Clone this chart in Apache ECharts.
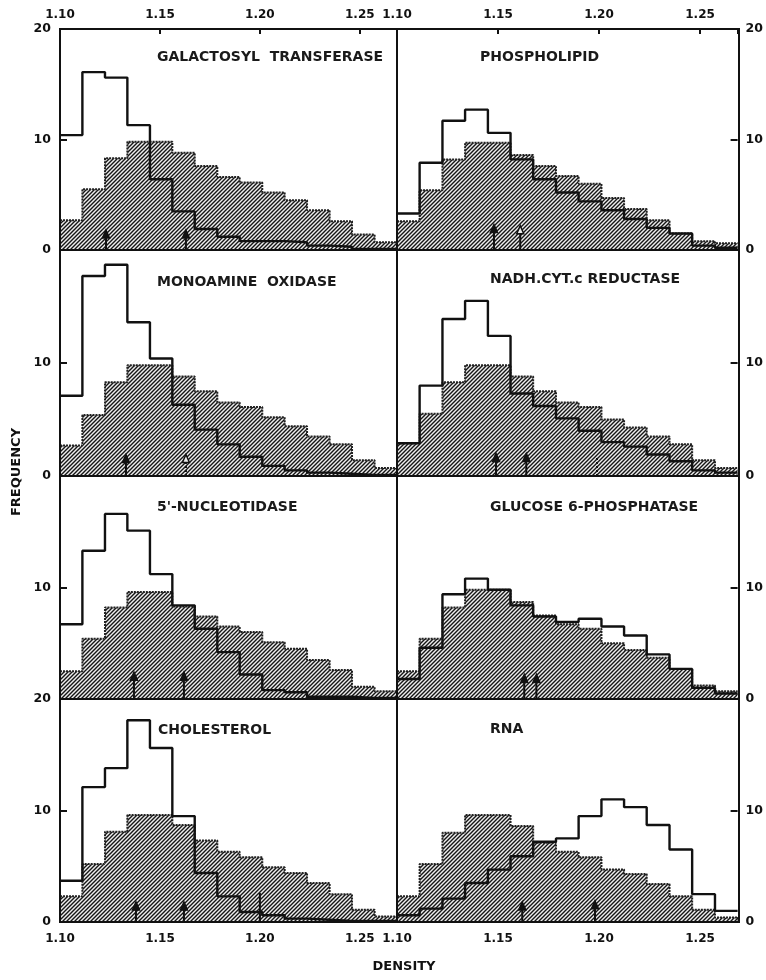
<!DOCTYPE html>
<html><head><meta charset="utf-8">
<script src="https://cdn.jsdelivr.net/npm/echarts@6/dist/echarts.min.js"></script>
<style>html,body{margin:0;padding:0;background:#fff}#c{width:766px;height:980px}</style>
</head><body><div id="c"></div>
<script>
// ---- data ----
const binEdges = [1.1000, 1.1112, 1.1225, 1.1337, 1.1450, 1.1562, 1.1674, 1.1787, 1.1899, 1.2012, 1.2124, 1.2236, 1.2349, 1.2461, 1.2574, 1.2686];
const panelNames = ['GALACTOSYL  TRANSFERASE', 'PHOSPHOLIPID', 'MONOAMINE  OXIDASE', 'NADH.CYT.c REDUCTASE', "5'-NUCLEOTIDASE", 'GLUCOSE 6-PHOSPHATASE', 'CHOLESTEROL', 'RNA'];
const galOpen   = [10.4, 16.1, 15.6, 11.3, 6.4, 3.5, 1.9, 1.2, 0.8, 0.8, 0.7, 0.4, 0.3, 0.1, 0.1];
const galHatch  = [2.7, 5.5, 8.3, 9.8, 9.8, 8.8, 7.6, 6.6, 6.1, 5.2, 4.5, 3.6, 2.6, 1.4, 0.7];
const phosOpen  = [3.3, 7.9, 11.7, 12.7, 10.6, 8.2, 6.4, 5.2, 4.4, 3.6, 2.8, 2.0, 1.5, 0.4, 0.2];
const phosHatch = [2.6, 5.4, 8.2, 9.7, 9.7, 8.6, 7.6, 6.7, 6.0, 4.7, 3.7, 2.7, 1.5, 0.8, 0.6];
const maoOpen   = [7.1, 17.7, 18.7, 13.6, 10.4, 6.3, 4.1, 2.8, 1.7, 0.9, 0.5, 0.3, 0.2, 0.1, 0.1];
const maoHatch  = [2.7, 5.4, 8.3, 9.8, 9.8, 8.8, 7.5, 6.5, 6.1, 5.2, 4.4, 3.5, 2.8, 1.4, 0.7];
const nadhOpen  = [2.9, 8.0, 13.9, 15.5, 12.4, 7.3, 6.2, 5.1, 4.0, 3.0, 2.6, 1.9, 1.3, 0.5, 0.3];
const nadhHatch = [2.9, 5.5, 8.3, 9.8, 9.8, 8.8, 7.5, 6.5, 6.1, 5.0, 4.3, 3.5, 2.8, 1.4, 0.7];
const nucOpen   = [6.7, 13.3, 16.6, 15.1, 11.2, 8.4, 6.3, 4.2, 2.2, 0.8, 0.6, 0.2, 0.2, 0.1, 0.1];
const nucHatch  = [2.5, 5.4, 8.2, 9.6, 9.6, 8.3, 7.4, 6.5, 6.0, 5.1, 4.5, 3.5, 2.6, 1.1, 0.7];
const g6pOpen   = [1.8, 4.6, 9.4, 10.8, 9.8, 8.4, 7.4, 6.9, 7.2, 6.5, 5.7, 4.0, 2.7, 1.0, 0.5];
const g6pHatch  = [2.5, 5.4, 8.2, 9.8, 9.8, 8.7, 7.5, 6.7, 6.3, 5.0, 4.4, 3.7, 2.7, 1.2, 0.7];
const cholOpen  = [3.7, 12.1, 13.8, 18.1, 15.6, 9.5, 4.4, 2.3, 0.9, 0.6, 0.3, 0.2, 0.1, 0.1, 0.1];
const cholHatch = [2.3, 5.2, 8.1, 9.6, 9.6, 8.7, 7.3, 6.3, 5.8, 4.9, 4.4, 3.5, 2.5, 1.1, 0.5];
const rnaOpen   = [0.6, 1.2, 2.1, 3.5, 4.7, 5.9, 7.2, 7.5, 9.5, 11.0, 10.3, 8.7, 6.5, 2.5, 1.0];
const rnaHatch  = [2.3, 5.2, 8.0, 9.6, 9.6, 8.6, 7.1, 6.3, 5.8, 4.7, 4.3, 3.4, 2.3, 1.1, 0.4];
// arrows: [density, height, kind]  kind 0 filled, 1 hollow head, 2 hollow head dashed shaft, 3 dashed line, 4 plain line
const galArrows  = [[1.123, 1.8, 0], [1.163, 1.8, 0]];
const phosArrows = [[1.148, 2.3, 0], [1.161, 2.2, 1]];
const maoArrows  = [[1.133, 1.9, 0], [1.163, 1.9, 2]];
const nadhArrows = [[1.149, 2.0, 0], [1.164, 2.0, 0], [1.199, 1.7, 3]];
const nucArrows  = [[1.137, 2.4, 0], [1.162, 2.4, 0]];
const g6pArrows  = [[1.163, 2.2, 0], [1.169, 2.2, 0]];
const cholArrows = [[1.138, 1.8, 0], [1.162, 1.8, 0], [1.200, 2.6, 4]];
const rnaArrows  = [[1.162, 1.8, 0], [1.198, 1.9, 0]];
const xTickLabels = [1.10, 1.15, 1.20, 1.25];
const xTickStep = 0.05;
const yLabelsLeft = [[0, 10, 20], [0, 10], [10], [0, 10, 20]];
const yLabelsRight = [[0, 10, 20], [0, 10], [0, 10], [0, 10]];

const openSets = [galOpen, phosOpen, maoOpen, nadhOpen, nucOpen, g6pOpen, cholOpen, rnaOpen];
const hatchSets = [galHatch, phosHatch, maoHatch, nadhHatch, nucHatch, g6pHatch, cholHatch, rnaHatch];
const arrowSets = [galArrows, phosArrows, maoArrows, nadhArrows, nucArrows, g6pArrows, cholArrows, rnaArrows];

// ---- layout ----
const colLeft = [60, 397], colWidth = [337, 342];
const rowTop = [29, 250, 476, 699], rowHeight = [221, 226, 223, 223];
const labelPos = [[157, 57], [480, 57], [157, 282], [490, 279], [157, 507], [490, 507], [158, 730], [490, 729]];

function hatchCanvas() {
  const s = 4, c = document.createElement('canvas'); c.width = c.height = s;
  const g = c.getContext('2d');
  g.fillStyle = '#eeeeee'; g.fillRect(0, 0, s, s);
  g.strokeStyle = '#151515'; g.lineWidth = 1.4; g.beginPath();
  g.moveTo(-1, s + 1); g.lineTo(s + 1, -1);
  g.moveTo(-1, 1); g.lineTo(1, -1);
  g.moveTo(s - 1, s + 1); g.lineTo(s + 1, s - 1);
  g.stroke();
  return c;
}
const pat = { image: hatchCanvas(), repeat: 'repeat' };
const stepData = vals => vals.map((v, i) => [binEdges[i], v]).concat([[binEdges[binEdges.length - 1], vals[vals.length - 1]]]);

const font = '"DejaVu Sans", sans-serif';
const grids = [], xAxes = [], yAxes = [], series = [], graphics = [];
for (let i = 0; i < 8; i++) {
  const row = Math.floor(i / 2), col = i % 2;
  grids.push({ left: colLeft[col], top: rowTop[row], width: colWidth[col], height: rowHeight[row], containLabel: false });
  const showX = row === 0 || row === 3;
  xAxes.push({
    type: 'value', gridIndex: i, min: binEdges[0], max: binEdges[binEdges.length - 1], interval: xTickStep,
    position: row === 0 ? 'top' : 'bottom',
    axisLine: { show: false, onZero: false }, splitLine: { show: false },
    axisTick: { show: showX, inside: true, length: 5, lineStyle: { color: '#111', width: 2 } },
    axisLabel: { show: showX, customValues: xTickLabels, formatter: v => v.toFixed(2), color: '#111', fontFamily: font, fontWeight: 'bold', fontSize: 12, margin: row === 0 ? 8 : 11 }
  });
  yAxes.push({
    type: 'value', gridIndex: i, min: 0, max: 20, position: col === 0 ? 'left' : 'right',
    axisLine: { show: false, onZero: false }, splitLine: { show: false },
    axisTick: { show: true, inside: true, length: 7, customValues: [10], lineStyle: { color: '#111', width: 2 } },
    axisLabel: { customValues: col === 0 ? yLabelsLeft[row] : yLabelsRight[row], color: '#111', fontFamily: font, fontWeight: 'bold', fontSize: 12.5, margin: col === 0 ? 9 : 8 }
  });
  series.push({
    type: 'line', xAxisIndex: i, yAxisIndex: i, step: 'end', symbol: 'none', z: 2,
    data: stepData(hatchSets[i]),
    lineStyle: { color: '#222', width: 2, type: [2, 1] },
    areaStyle: { color: pat, opacity: 1 }
  });
  series.push({
    type: 'line', xAxisIndex: i, yAxisIndex: i, step: 'end', symbol: 'none', z: 3,
    data: stepData(openSets[i]),
    lineStyle: { color: '#111', width: 2.4 }
  });
  series.push({
    type: 'custom', xAxisIndex: i, yAxisIndex: i, z: 4,
    data: arrowSets[i],
    renderItem: (params, api) => {
      const x = api.value(0), h = api.value(1), kind = api.value(2);
      const p0 = api.coord([x, 0]), p1 = api.coord([x, h]);
      const ch = [];
      const head = kind <= 2;
      ch.push({ type: 'line', shape: { x1: p0[0], y1: p0[1], x2: p1[0], y2: p1[1] + (head ? 5 : 0) },
        style: { stroke: '#111', lineWidth: 2, lineDash: (kind === 2 || kind === 3) ? [2, 2] : null } });
      if (head) ch.push({ type: 'polygon', shape: { points: [[p1[0], p1[1]], [p1[0] - 3.5, p1[1] + 8], [p1[0] + 3.5, p1[1] + 8]] },
        style: { fill: kind === 0 ? '#111' : '#eee', stroke: '#111', lineWidth: 1.5 } });
      return { type: 'group', children: ch };
    }
  });
  graphics.push({ type: 'rect', z: 50, silent: true,
    shape: { x: colLeft[col], y: rowTop[row], width: colWidth[col], height: rowHeight[row] },
    style: { fill: 'none', stroke: '#111', lineWidth: 2 } });
  graphics.push({ type: 'text', z: 50, x: labelPos[i][0], y: labelPos[i][1],
    style: { text: panelNames[i], font: 'bold 14px ' + font, fill: '#1a1a1a', verticalAlign: 'middle' } });
}
graphics.push({ type: 'text', z: 50, x: 17, y: 472, rotation: Math.PI / 2,
  style: { text: 'FREQUENCY', font: 'bold 13px ' + font, fill: '#111', align: 'center', verticalAlign: 'middle' } });
graphics.push({ type: 'text', z: 50, x: 404, y: 967,
  style: { text: 'DENSITY', font: 'bold 13px ' + font, fill: '#111', align: 'center', verticalAlign: 'middle' } });

const chart = echarts.init(document.getElementById('c'), null, { renderer: 'canvas' });
chart.setOption({ animation: false, backgroundColor: '#fff', grid: grids, xAxis: xAxes, yAxis: yAxes, series, graphic: graphics });
</script></body></html>
